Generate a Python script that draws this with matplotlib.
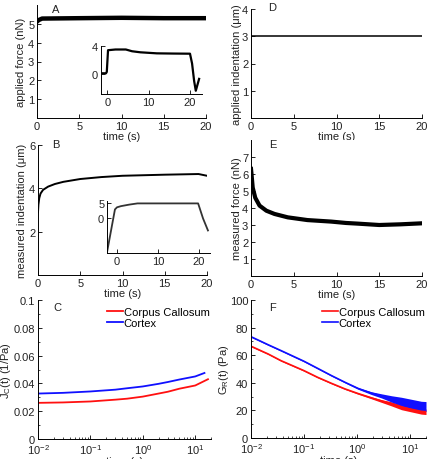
"""Six-panel indentation / relaxation figure (A-F) redrawn with matplotlib."""

import matplotlib

matplotlib.use("Agg")
import matplotlib.pyplot as plt
from matplotlib.ticker import FormatStrFormatter, LogLocator, MultipleLocator

plt.rcParams["font.family"] = ["Liberation Sans", "DejaVu Sans"]
plt.rcParams["mathtext.fontset"] = "custom"
plt.rcParams["mathtext.rm"] = "Liberation Sans"
plt.rcParams["mathtext.it"] = "Liberation Sans"

# A: applied force, main trace and inset
a_time = [0, 0.2, 0.6, 5, 10, 15, 20]
a_force = [5.12, 5.2, 5.28, 5.3, 5.32, 5.3, 5.3]
a_in_time = [-1.5, -0.3, -0.1, 0.2, 2, 4.5, 6, 8, 12, 16, 20, 20.5, 21, 21.4, 22.2]
a_in_force = [0.1, 0.1, 0.3, 3.4, 3.5, 3.5, 3.25, 3.1, 2.95, 2.92, 2.9, 1.5, -1.0, -2.4, -0.7]

# B: measured indentation, main trace and inset
b_time = [0, 0.05, 0.15, 0.3, 0.6, 1.2, 2, 3, 5, 7.5, 10, 15, 19, 20]
b_indent = [2.9, 3.25, 3.55, 3.76, 3.93, 4.08, 4.2, 4.3, 4.43, 4.52, 4.58, 4.63, 4.66, 4.58]
b_in_time = [-2.4, -0.5, 0, 1, 3, 5, 10, 15, 19.8, 21, 22.2]
b_in_indent = [-11, 3, 3.7, 4.1, 4.6, 5, 5, 5, 5, 0, -4]

# C: creep compliance
c_red_time = [0.01, 0.03, 0.1, 0.3, 0.5, 1, 2, 3, 5, 10, 17.5]
c_red = [0.026, 0.0263, 0.027, 0.0283, 0.029, 0.0305, 0.0327, 0.034, 0.0362, 0.0385, 0.043]
c_blue_time = [0.01, 0.03, 0.1, 0.3, 0.5, 1, 2, 3, 5, 10, 15]
c_blue = [0.0327, 0.0332, 0.0342, 0.0355, 0.0365, 0.0378, 0.0397, 0.041, 0.0428, 0.045, 0.0475]

# D: applied indentation
d_time = [0, 20]
d_indent = [3, 3]

# E: measured force
e_time = [0, 0.04, 0.2, 0.5, 1.0, 1.8, 2.75, 4.3, 6.6, 9.4, 11.1, 12.5, 15, 17.5, 20]
e_force = [6.3, 6.1, 5.2, 4.6, 4.14, 3.84, 3.65, 3.45, 3.29, 3.2, 3.12, 3.08, 3.0, 3.04, 3.1]

# F: relaxation modulus, centre line and half-width of the noisy band
f_time = [0.01, 0.021, 0.037, 0.1, 0.18, 0.33, 0.59, 1.05, 1.87, 2.9, 4.5, 6.9, 16.3, 20]
f_red = [66.5, 60.9, 56, 48.8, 44, 39.6, 35.6, 32.2, 29.1, 26.8, 24.7, 22.3, 19.3, 19]
f_red_spread = [0.4, 0.4, 0.4, 0.4, 0.4, 0.4, 0.4, 0.5, 0.7, 1.0, 1.5, 1.8, 2.0, 2.0]
f_blue = [73.4, 67.6, 63.3, 55.6, 50.5, 45.2, 40.4, 35.9, 32.5, 30.5, 28.3, 26.5, 23, 22.8]
f_blue_spread = [0.4, 0.4, 0.4, 0.4, 0.4, 0.4, 0.4, 0.6, 1.0, 1.5, 2.3, 3.0, 3.6, 3.6]

legend_labels = ["Corpus Callosum", "Cortex"]
RED = "#ff1010"
BLUE = "#1010ff"
TEXT = "#222222"
FS = 8

W, H = 433, 460


def _axes(fig, left, top, right, bottom):
    """Axes from pixel edges of the reference picture."""
    ax = fig.add_axes([left / W, 1 - bottom / H, (right - left) / W, (bottom - top) / H])
    ax._px = (left, right)
    return ax


def _style(ax, xlabel=None, ylabel=None, ylabel_x=None):
    ax.spines[["top", "right"]].set_visible(False)
    ax.tick_params(direction="in", length=3, width=0.7, labelsize=FS,
                   colors=TEXT, pad=2)
    ax.tick_params(which="minor", direction="in", length=1.5, width=0.5)
    for side in ("left", "bottom"):
        ax.spines[side].set_linewidth(0.7)
    if xlabel:
        ax.set_xlabel(xlabel, fontsize=FS, color=TEXT, labelpad=0)
    if ylabel:
        ax.set_ylabel(ylabel, fontsize=FS, color=TEXT)
        left, right = ax._px
        # label centre in figure pixels -> right edge of the rotated text
        ax.yaxis.set_label_coords((ylabel_x + 5.5 - left) / (right - left), 0.5)


fig = plt.figure(figsize=(W / 100, H / 100), dpi=100)

# A
ax = _axes(fig, 37, 6, 206, 119)
ax.plot(a_time, a_force, color="black", lw=3.2)
ax.set_xlim(0, 20)
ax.set_ylim(0, 6)
ax.set_xticks([0, 5, 10, 15, 20])
ax.set_yticks([1, 2, 3, 4, 5])
_style(ax, "time (s)", "applied force (nN)", 21)
ins = _axes(fig, 101, 47, 202, 95)
ins.plot(a_in_time, a_in_force, color="black", lw=1.6)
ins.set_xlim(-1.5, 22.9)
ins.set_ylim(-2.86, 4.0)
ins.set_xticks([0, 10, 20])
ins.set_yticks([0, 4])
_style(ins)

# B
ax = _axes(fig, 38, 146, 207, 276)
ax.plot(b_time, b_indent, color="black", lw=1.4)
ax.set_xlim(0, 20)
ax.set_ylim(0, 6)
ax.set_xticks([0, 5, 10, 15, 20])
ax.set_yticks([2, 4, 6])
_style(ax, "time (s)", "measured indentation (μm)", 21.5)
ins = _axes(fig, 107, 202, 210, 254)
ins.plot(b_in_time, b_in_indent, color="#333333", lw=1.3)
ins.set_xlim(-2.44, 22.7)
ins.set_ylim(-11.5, 5.8)
ins.set_xticks([0, 10, 20])
ins.set_yticks([0, 5])
_style(ins)

# C
ax = _axes(fig, 38, 301, 211, 440)
ax.plot(c_red_time, c_red, color=RED, lw=1.3, label=legend_labels[0])
ax.plot(c_blue_time, c_blue, color=BLUE, lw=1.3, label=legend_labels[1])
ax.set_xscale("log")
ax.set_xlim(0.01, 20)
ax.set_ylim(0, 0.1)
ax.set_yticks([0, 0.02, 0.04, 0.06, 0.08, 0.1])
ax.yaxis.set_major_formatter(FormatStrFormatter("%g"))
ax.yaxis.set_minor_locator(MultipleLocator(0.01))
ax.xaxis.set_minor_locator(LogLocator(subs=range(2, 10)))
_style(ax, "time (s)", "J$_\\mathrm{C}$(t) (1/Pa)", 7.5)
ax.legend(loc="upper right", bbox_to_anchor=(1.03, 1.0), fontsize=FS,
          frameon=False, handlelength=1.4, handletextpad=0.1, labelspacing=0.1,
          borderaxespad=0.2)

# D
ax = _axes(fig, 251, 10, 422, 119)
ax.plot(d_time, d_indent, color="black", lw=1.1)
ax.set_xlim(0, 20)
ax.set_ylim(0, 4)
ax.set_xticks([0, 5, 10, 15, 20])
ax.set_yticks([1, 2, 3, 4])
_style(ax, "time (s)", "applied indentation (μm)", 236.5)

# E
ax = _axes(fig, 251, 141, 422, 277)
ax.plot(e_time, e_force, color="black", lw=3.0)
ax.set_xlim(0, 20)
ax.set_ylim(0, 8)
ax.set_xticks([0, 5, 10, 15, 20])
ax.set_yticks([1, 2, 3, 4, 5, 6, 7])
_style(ax, "time (s)", "measured force (nN)", 236)

# F
ax = _axes(fig, 251, 301, 426, 439)
for centre, spread, color, label in (
    (f_red, f_red_spread, RED, legend_labels[0]),
    (f_blue, f_blue_spread, BLUE, legend_labels[1]),
):
    lower = [c - s for c, s in zip(centre, spread)]
    upper = [c + s for c, s in zip(centre, spread)]
    ax.fill_between(f_time, lower, upper, color=color, lw=0)
    ax.plot(f_time, centre, color=color, lw=1.2, label=label)
ax.set_xscale("log")
ax.set_xlim(0.01, 20)
ax.set_ylim(0, 100)
ax.set_yticks([0, 20, 40, 60, 80, 100])
ax.yaxis.set_minor_locator(MultipleLocator(10))
ax.xaxis.set_minor_locator(LogLocator(subs=range(2, 10)))
_style(ax, "time (s)", "G$_\\mathrm{R}$(t) (Pa)", 225)
ax.legend(loc="upper right", bbox_to_anchor=(1.03, 1.0), fontsize=FS,
          frameon=False, handlelength=1.4, handletextpad=0.1, labelspacing=0.1,
          borderaxespad=0.2)

# panel letters
for letter, x, y in (("A", 56, 10), ("B", 56, 145), ("C", 57, 308),
                     ("D", 272, 8), ("E", 273, 145), ("F", 272, 308)):
    fig.text(x / W, 1 - y / H, letter, fontsize=FS, color=TEXT,
             ha="center", va="center")

fig.savefig("out.png", dpi=100)
